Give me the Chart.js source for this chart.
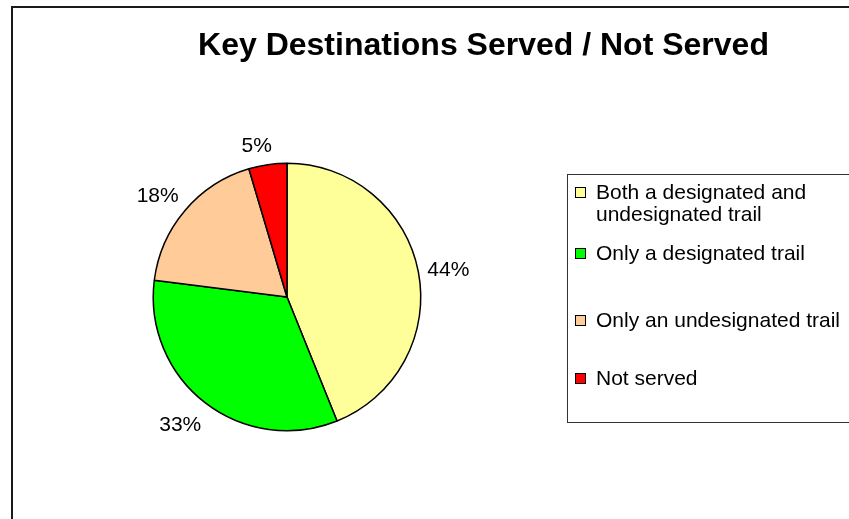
<!DOCTYPE html>
<html>
<head>
<meta charset="utf-8">
<script src="https://cdn.jsdelivr.net/npm/chart.js@4.4.0/dist/chart.umd.min.js"></script>
<style>
html,body{margin:0;padding:0;background:#fff;}
#c{display:block;}
</style>
</head>
<body>
<canvas id="c" width="849" height="519"></canvas>
<script>
const chartTitle = "Key Destinations Served / Not Served";
const categories = ["Both a designated and undesignated trail", "Only a designated trail", "Only an undesignated trail", "Not served"];
const legendLines = [["Both a designated and", "undesignated trail"], ["Only a designated trail"], ["Only an undesignated trail"], ["Not served"]];
const values = [43.9, 33.1, 18.4, 4.6];
const colors = ["#FFFF99", "#00FF00", "#FFCC99", "#FF0000"];

const FONT = "Arial, 'Liberation Sans', sans-serif";

const decor = {
  id: 'decor',
  beforeDraw(chart) {
    const ctx = chart.ctx;
    ctx.save();
    ctx.fillStyle = '#fff';
    ctx.fillRect(0, 0, chart.width, chart.height);
    ctx.strokeStyle = '#1a1a1a';
    ctx.lineWidth = 2;
    ctx.strokeRect(12, 7, 900, 600);
    ctx.restore();
  },
  afterDraw(chart) {
    const ctx = chart.ctx;
    ctx.save();
    // title
    ctx.fillStyle = '#000';
    ctx.font = "bold 32px " + FONT;
    ctx.textAlign = 'center';
    ctx.textBaseline = 'middle';
    ctx.fillText(chartTitle, 483.5, 46);
    // data labels
    const meta = chart.getDatasetMeta(0);
    const total = values.reduce((a, b) => a + b, 0);
    ctx.font = "21px " + FONT;
    const offs = [[2.5, 4.5], [-8, 0.5], [-6, 4], [-7, 9]];
    meta.data.forEach((arc, i) => {
      const mid = (arc.startAngle + arc.endAngle) / 2;
      const r = arc.outerRadius + 28;
      const x = arc.x + Math.cos(mid) * r + offs[i][0];
      const y = arc.y + Math.sin(mid) * r + offs[i][1];
      ctx.fillStyle = '#000';
      ctx.fillText(Math.round(values[i] / total * 100) + '%', x, y);
    });
    // legend box
    ctx.strokeStyle = '#333';
    ctx.lineWidth = 1;
    ctx.strokeRect(567.5, 174.5, 400, 248);
    const ys = [193, 254, 321, 379];
    ctx.textAlign = 'left';
    ctx.font = "21px " + FONT;
    legendLines.forEach((lines, i) => {
      const y = ys[i];
      ctx.fillStyle = colors[i];
      ctx.fillRect(575.5, y - 5.5, 10, 10);
      ctx.strokeStyle = '#000';
      ctx.strokeRect(575.5, y - 5.5, 10, 10);
      ctx.fillStyle = '#000';
      lines.forEach((t, j) => ctx.fillText(t, 596, y + j * 22));
    });
    ctx.restore();
  }
};

new Chart(document.getElementById('c'), {
  type: 'pie',
  data: {
    labels: categories,
    datasets: [{
      data: values,
      backgroundColor: colors,
      borderColor: '#000',
      borderWidth: 1.5,
      borderAlign: 'center'
    }]
  },
  options: {
    responsive: false,
    animation: false,
    devicePixelRatio: 1,
    layout: { padding: { left: 152.5, right: 427.5, top: 162.5, bottom: 87.5 } },
    plugins: {
      legend: { display: false },
      title: { display: false },
      tooltip: { enabled: false }
    }
  },
  plugins: [decor]
});
</script>
</body>
</html>
